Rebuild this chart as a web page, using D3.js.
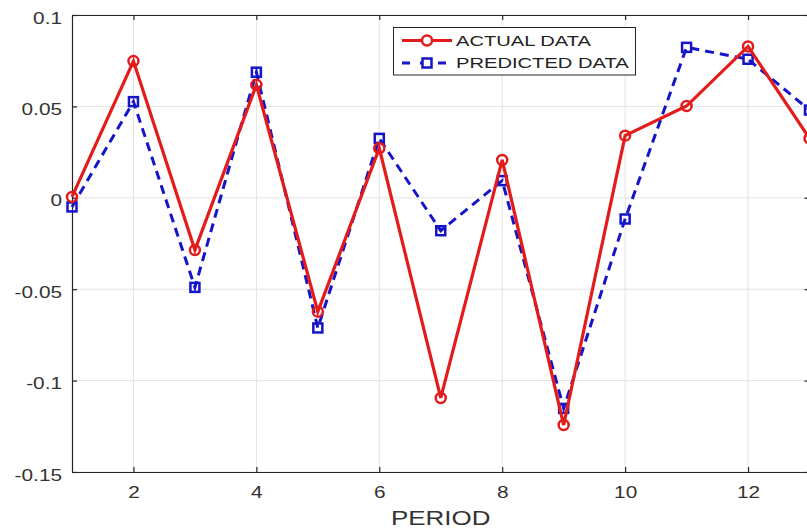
<!DOCTYPE html>
<html><head><meta charset="utf-8">
<script src="https://cdn.jsdelivr.net/npm/d3@7"></script>
<style>body{margin:0;background:#fff;overflow:hidden}svg{display:block}</style>
</head><body>
<script>
const periods = [1,2,3,4,5,6,7,8,9,10,11,12,13];
const actualData = [0.0005,0.0748,-0.0286,0.0618,-0.0623,0.0271,-0.1095,0.0207,-0.1243,0.0340,0.0502,0.0828,0.0325];
const predictedData = [-0.0050,0.0526,-0.0490,0.0687,-0.0712,0.0325,-0.0180,0.0094,-0.1152,-0.0116,0.0823,0.0758,0.0480];
const xTicks = [2,4,6,8,10,12];
const yTicks = [0.1,0.05,0,-0.05,-0.1,-0.15];
const yTickLabels = ["0.1","0.05","0","-0.05","-0.1","-0.15"];
const seriesNames = ["ACTUAL DATA","PREDICTED DATA"];

const W=807,H=529;
const L=72,R=809.5,T=15,B=472;
const SX=1.3; // horizontal stretch of the reference text
const svg=d3.select("body").append("svg").attr("width",W).attr("height",H);
const x=d3.scaleLinear().domain([1,13]).range([L,R]);
const y=d3.scaleLinear().domain([-0.15,0.1]).range([B,T]);
const font="Liberation Sans, Arial, sans-serif";
const axisCol="#262626", gridCol="#e3e3e3", textCol="#333";

// grid
svg.append("g").selectAll("line").data(xTicks).join("line")
 .attr("x1",d=>x(d)).attr("x2",d=>x(d)).attr("y1",T).attr("y2",B)
 .attr("stroke",gridCol).attr("stroke-width",1);
svg.append("g").selectAll("line").data(yTicks).join("line")
 .attr("x1",L).attr("x2",R).attr("y1",d=>y(d)).attr("y2",d=>y(d))
 .attr("stroke",gridCol).attr("stroke-width",1);

// axes
const fmtY = d=>yTickLabels[yTicks.indexOf(d)];
const ax=(g)=>{g.selectAll("path").attr("stroke",axisCol).attr("stroke-width",1.2);
 g.selectAll("line").attr("stroke",axisCol).attr("stroke-width",1.2);
 g.selectAll("text").attr("fill",textCol).style("font-family",font).style("font-size","16px");};
svg.append("g").attr("transform",`translate(0,${B})`)
 .call(d3.axisBottom(x).tickValues(xTicks).tickSizeInner(-5).tickSizeOuter(0).tickPadding(15)).call(ax)
 .selectAll("text").attr("transform",`scale(${SX},1)`);
svg.append("g").attr("transform",`translate(0,${T})`)
 .call(d3.axisTop(x).tickValues(xTicks).tickSizeInner(-5).tickSizeOuter(0).tickFormat("")).call(ax);
svg.append("g").attr("transform",`translate(${L},0)`)
 .call(d3.axisLeft(y).tickValues(yTicks).tickFormat(fmtY).tickSizeInner(-5).tickSizeOuter(0)).call(ax)
 .selectAll("text").attr("x",-10/SX).attr("dy","0.5em").attr("transform",`scale(${SX},1)`);
svg.append("g").attr("transform",`translate(${R},0)`)
 .call(d3.axisRight(y).tickValues(yTicks).tickSizeInner(-5).tickSizeOuter(0).tickFormat("")).call(ax);

svg.append("text").attr("x",(L+R)/2/SX).attr("y",525).attr("text-anchor","middle")
 .attr("transform",`scale(${SX},1)`)
 .style("font-family",font).style("font-size","20px").attr("fill",textCol).text("PERIOD");

const red="#e31b1b", blue="#1414c8";
const line=d3.line().x((d,i)=>x(periods[i])).y(d=>y(d));
const plot=svg.append("g");

// predicted
plot.append("path").datum(predictedData).attr("d",line).attr("fill","none")
 .attr("stroke",blue).attr("stroke-width",3).attr("stroke-dasharray","9,6");
plot.append("g").selectAll("rect").data(predictedData).join("rect")
 .attr("x",(d,i)=>x(periods[i])-4.5).attr("y",d=>y(d)-4.5).attr("width",9).attr("height",9)
 .attr("fill","none").attr("stroke",blue).attr("stroke-width",2.5);
// actual
plot.append("path").datum(actualData).attr("d",line).attr("fill","none")
 .attr("stroke",red).attr("stroke-width",3.2);
plot.append("g").selectAll("circle").data(actualData).join("circle")
 .attr("cx",(d,i)=>x(periods[i])).attr("cy",d=>y(d)).attr("r",5)
 .attr("fill","none").attr("stroke",red).attr("stroke-width",2.5);

// legend
const lg=svg.append("g");
lg.append("rect").attr("x",393.5).attr("y",27.5).attr("width",242).attr("height",47.5)
 .attr("fill","#fff").attr("stroke",axisCol).attr("stroke-width",1);
const rows=[{c:red,n:seriesNames[0],dash:null,m:"c",yy:40.5},{c:blue,n:seriesNames[1],dash:"8,10",m:"s",yy:63}];
rows.forEach((r)=>{
 const yy=r.yy;
 lg.append("line").attr("x1",402).attr("x2",452).attr("y1",yy).attr("y2",yy)
  .attr("stroke",r.c).attr("stroke-width",3).attr("stroke-dasharray",r.dash);
 if(r.m==="c") lg.append("circle").attr("cx",427).attr("cy",yy).attr("r",5).attr("fill","#fff").attr("stroke",r.c).attr("stroke-width",2.5);
 else lg.append("rect").attr("x",422.5).attr("y",yy-4.5).attr("width",9).attr("height",9).attr("fill","#fff").attr("stroke",r.c).attr("stroke-width",2.5);
 lg.append("text").attr("x",456/SX).attr("y",yy+5.5).attr("transform",`scale(${SX},1)`)
  .style("font-family",font).style("font-size","15.5px").attr("fill","#222").text(r.n);
});
</script>
</body></html>
